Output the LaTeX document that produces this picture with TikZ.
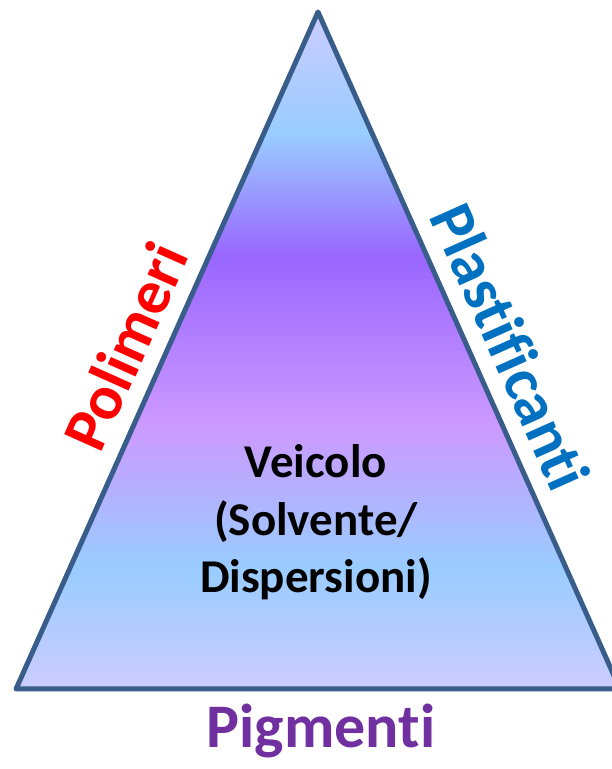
\documentclass[tikz,border=0pt]{standalone}
\usepackage{fontspec}
\setmainfont{Carlito}[Ligatures=CommonOff]
\usetikzlibrary{calc}
\definecolor{cA}{HTML}{CCCCFF}
\definecolor{cB}{HTML}{99CCFF}
\definecolor{cC}{HTML}{9966FF}
\definecolor{cD}{HTML}{CC99FF}
\definecolor{edgecol}{HTML}{385D8A}
\definecolor{polred}{HTML}{FF0000}
\definecolor{plablue}{HTML}{0070C0}
\definecolor{pigpurple}{HTML}{7030A0}
\pgfdeclareverticalshading{calmwater}{100bp}{color(0bp)=(cA); color(25bp)=(cA); color(34bp)=(cB); color(44.5bp)=(cD); color(57bp)=(cC); color(66bp)=(cB); color(75bp)=(cA); color(100bp)=(cA)}
\tikzset{
  edgeline/.style={draw=edgecol, line width=5pt, line join=round},
  sidelabel/.style={font=\bfseries\fontsize{63}{75}\selectfont, inner sep=0pt, anchor=base},
  innerlabel/.style={font=\bfseries\fontsize{47}{57.5}\selectfont, align=center, inner sep=0pt, anchor=base}
}
\begin{document}
\begin{tikzpicture}[x=1pt,y=1pt]
\useasboundingbox (0,0) rectangle (612,769);
\coordinate (A) at (318,757);
\coordinate (B) at (16,80);
\coordinate (C) at (620,80);
\begin{scope}
\clip (0,0) rectangle (612,769);
\shade[shading=calmwater] (A) -- (B) -- (C) -- cycle;
\draw[edgeline] (A) -- (B) -- (C) -- cycle;
\end{scope}
% left side label
\coordinate (L) at ($(B)!0.482!(A)$);
\node[sidelabel, text=polred, rotate=65.94] (pol) at ($(L)+(-0.9136*18,0.4075*18)$) {Polimeri};
% right side label
\coordinate (R) at ($(C)!0.482!(A)$);
\node[sidelabel, text=plablue, rotate=-65.94] (pla) at ($(R)+(0.9136*18,0.4075*18)$) {Plastificanti};
% bottom label
\node[sidelabel, text=pigpurple, font=\bfseries\fontsize{62}{74}\selectfont] (pig) at (321,21) {Pigmenti};
% inner label
\node[innerlabel] (vei) at (316,176) {Veicolo\\(Solvente/\\Dispersioni)};
\end{tikzpicture}
\end{document}
